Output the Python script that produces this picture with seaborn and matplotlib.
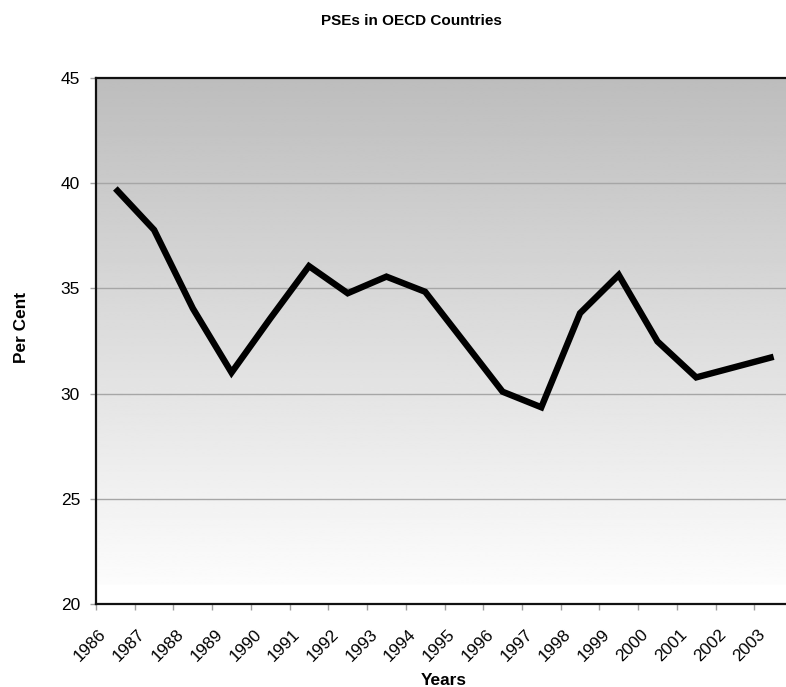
import numpy as np
import pandas as pd
import matplotlib
matplotlib.use("Agg")
import matplotlib.pyplot as plt
import matplotlib.transforms as mtransforms
import seaborn as sns

years = ["1986", "1987", "1988", "1989", "1990", "1991", "1992", "1993", "1994",
         "1995", "1996", "1997", "1998", "1999", "2000", "2001", "2002", "2003"]
pse = [39.75, 37.78, 34.05, 31.0, 33.57, 36.06, 34.77, 35.56, 34.84,
       32.47, 30.09, 29.35, 33.82, 35.64, 32.48, 30.77, 31.26, 31.75]
yticks = [20, 25, 30, 35, 40, 45]

sns.set_style("white")
plt.rcParams['font.family'] = ['Liberation Sans', 'DejaVu Sans']
plt.rcParams['text.color'] = 'black'
plt.rcParams['axes.labelcolor'] = 'black'
plt.rcParams['xtick.labelcolor'] = 'black'
plt.rcParams['ytick.labelcolor'] = 'black'

W, H = 786, 687
fig = plt.figure(figsize=(W / 100, H / 100), dpi=100)
left, right, top, bottom = 96, 793, 78, 604
ax = fig.add_axes([left / W, (H - bottom) / H, (right - left) / W, (bottom - top) / H])

# gradient background
grad = np.linspace(189, 252, 256)[:, None] / 255.0
grad = np.concatenate([grad, np.ones((10, 1))], axis=0)
ax.imshow(grad, cmap="gray", vmin=0, vmax=1, aspect="auto",
          extent=(-0.5, 17.5, 20, 45), origin="upper", zorder=0, interpolation="bilinear")

df = pd.DataFrame({"pos": np.arange(len(years)), "year": years, "pse": pse})
sns.lineplot(data=df, x="pos", y="pse", ax=ax, color="black", linewidth=4.6,
             zorder=3, solid_joinstyle="miter", solid_capstyle="butt")

ax.set_xlim(-0.5, len(years) - 0.5)
ax.set_ylim(20, 45)

for yv in [25, 30, 35, 40]:
    ax.axhline(yv, color="#a6a6a6", linewidth=1.0, zorder=1)

ax.set_yticks(yticks)
ax.set_yticklabels([str(v) for v in yticks], fontsize=12.5)
ax.tick_params(axis="y", direction="out", length=4.5, width=1, color="#a0a0a0", pad=7, left=True,
               labelcolor="black")

ax.set_xticks(np.arange(len(years)))
ax.set_xticklabels(years, fontsize=12.3, rotation=45, ha="right", va="top")
ax.set_xticks(np.arange(-0.5, len(years) + 0.5, 1), minor=True)
ax.tick_params(axis="x", which="major", length=0, pad=16, labelcolor="black")
ax.tick_params(axis="x", which="minor", direction="out", length=4, width=1, color="#a0a0a0", bottom=True)
off = mtransforms.ScaledTranslation(-6 / 100, 0, fig.dpi_scale_trans)
for lab in ax.get_xticklabels():
    lab.set_transform(lab.get_transform() + off)

for s in ax.spines.values():
    s.set_color("#111111")
    s.set_linewidth(1.6)
    s.set_zorder(5)

ax.set_xlabel("")
ax.set_ylabel("")
fig.text(411 / W, 1 - 21 / H, "PSEs in OECD Countries", ha="center", va="center",
         fontsize=11, fontweight="bold", color="black")
fig.text(444 / W, 2 / H, "Years", ha="center", va="baseline", fontsize=12.4, fontweight="bold",
         color="black")
fig.text(21 / W, 1 - 328 / H, "Per Cent", ha="center", va="center", rotation=90,
         fontsize=12.4, fontweight="bold", color="black")

fig.savefig("out.png", dpi=100)
